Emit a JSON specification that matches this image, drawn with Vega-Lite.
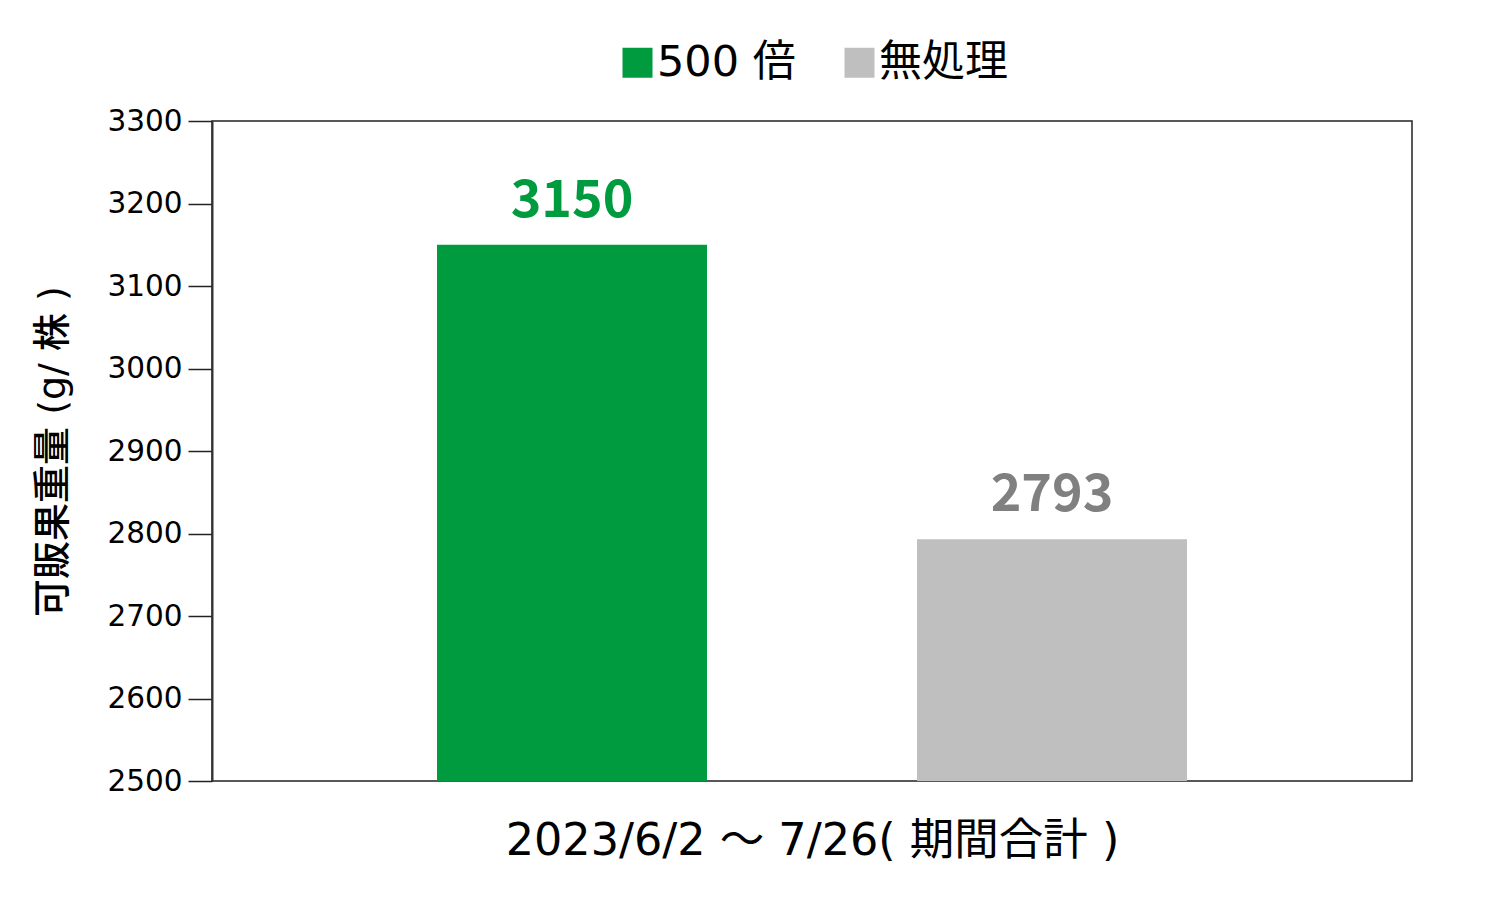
{
  "$schema": "https://vega.github.io/schema/vega-lite/v6.json",
  "width": 1200,
  "height": 660,
  "autosize": {"type": "none"},
  "padding": {"left": 212, "top": 121, "right": 88, "bottom": 119},
  "background": "white",
  "config": {
    "font": "DejaVu Sans, Noto Sans CJK JP",
    "view": {"stroke": "#222222", "strokeWidth": 1.5}
  },
  "data": {
    "values": [
      {"series": "500 倍", "value": 3150},
      {"series": "無処理", "value": 2793}
    ]
  },
  "encoding": {
    "x": {
      "field": "series",
      "type": "nominal",
      "sort": ["500 倍", "無処理"],
      "scale": {"paddingInner": 0.4375, "paddingOuter": 0.46875},
      "axis": {
        "title": "2023/6/2 ～ 7/26( 期間合計 )",
        "labels": false,
        "ticks": false,
        "domain": false,
        "titleFontSize": 44.5,
        "titleFontWeight": "normal",
        "titleColor": "#000000",
        "titlePadding": 38
      }
    },
    "y": {
      "field": "value",
      "type": "quantitative",
      "scale": {"domain": [2500, 3300], "nice": false, "zero": false},
      "axis": {
        "title": "可販果重量 (g/ 株 )",
        "values": [2500, 2600, 2700, 2800, 2900, 3000, 3100, 3200, 3300],
        "format": "d",
        "grid": false,
        "tickSize": 24,
        "tickColor": "#222222",
        "tickWidth": 1.5,
        "domainColor": "#333333",
        "domainWidth": 2,
        "labelFontSize": 29.5,
        "labelColor": "#000000",
        "labelPadding": 6,
        "titleFontSize": 38,
        "titleFontWeight": 500,
        "titleColor": "#000000",
        "titlePadding": 34
      }
    }
  },
  "layer": [
    {
      "mark": {"type": "bar", "clip": true},
      "encoding": {
        "color": {
          "field": "series",
          "type": "nominal",
          "sort": ["500 倍", "無処理"],
          "scale": {"domain": ["500 倍", "無処理"], "range": ["#009B3E", "#BFBFBF"]},
          "legend": {
            "title": null,
            "orient": "none",
            "legendX": 404,
            "legendY": -80,
            "direction": "horizontal",
            "symbolType": "square",
            "symbolSize": 900,
            "symbolStrokeWidth": 0,
            "labelFontSize": 43,
            "labelColor": "#000000",
            "labelOffset": -2,
            "columnPadding": 42
          }
        }
      }
    },
    {
      "mark": {"type": "text", "baseline": "bottom", "dy": -17, "fontSize": 52, "fontWeight": "bold", "font": "Noto Sans CJK JP"},
      "encoding": {
        "text": {"field": "value", "type": "quantitative", "format": "d"},
        "color": {
          "field": "series",
          "type": "nominal",
          "scale": {"domain": ["500 倍", "無処理"], "range": ["#009B3E", "#808080"]},
          "legend": null
        }
      }
    }
  ],
  "resolve": {"scale": {"color": "independent"}}
}
